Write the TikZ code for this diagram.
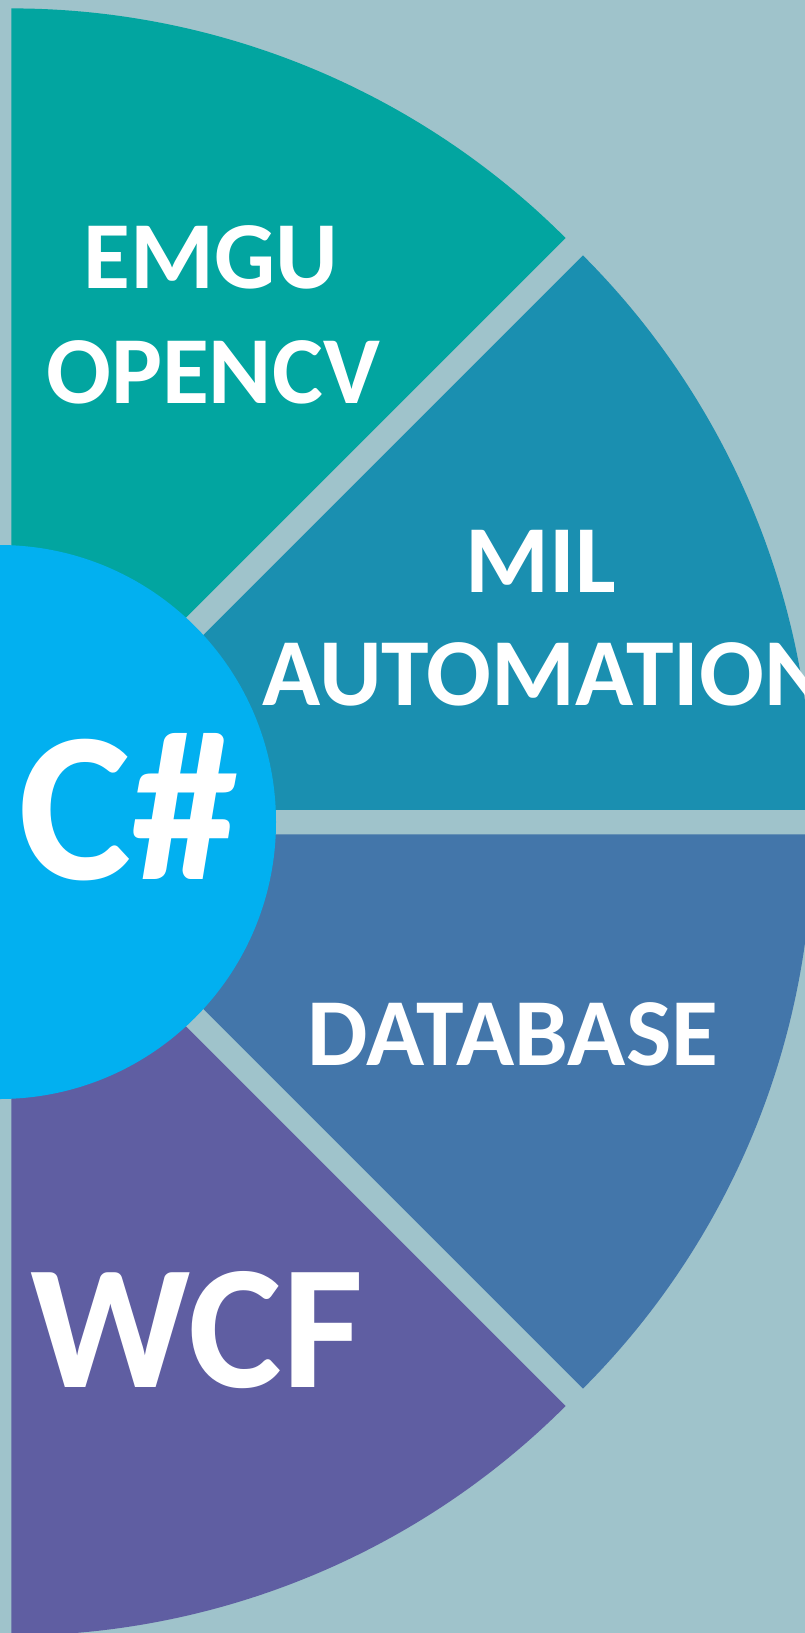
\documentclass[tikz,border=0pt]{standalone}
\usepackage{fontspec}
\setmainfont{Carlito}
\usetikzlibrary{positioning}

\definecolor{bgblue}{HTML}{9FC3CB}
\definecolor{sliceteal}{HTML}{02A5A0}
\definecolor{sliceblue}{HTML}{1A8FB0}
\definecolor{slicesteel}{HTML}{4376AA}
\definecolor{slicepurple}{HTML}{5F5EA2}
\definecolor{hubblue}{HTML}{02B0F0}

\begin{document}
\begin{tikzpicture}[x=1pt, y=1pt,
		lbl/.style={text=white, inner sep=0pt, anchor=base, font=\bfseries\fontsize{96}{116}\selectfont},
		biglbl/.style={lbl, font=\bfseries\fontsize{177}{212}\selectfont}
	]
					\fill[bgblue] (0,0) rectangle (805,-1633);
					\clip (0,0) rectangle (805,-1633);

					% pie slices, pulled out from the centre
					\coordinate (o) at (-1,-822);
					\coordinate (a1) at (11.25,-792.4);
					\coordinate (a2) at (28.56,-809.75);
					\coordinate (a3) at (28.56,-834.25);
					\coordinate (a4) at (11.25,-851.6);

					\fill[sliceteal] (a1) -- ++(90:784) arc[start angle=90, end angle=45, radius=784] -- cycle;
					\fill[sliceblue] (a2) -- ++(45:784) arc[start angle=45, end angle=0, radius=784] -- cycle;
					\fill[slicesteel] (a3) -- ++(0:784) arc[start angle=0, end angle=-45, radius=784] -- cycle;
					\fill[slicepurple] (a4) -- ++(-45:784) arc[start angle=-45, end angle=-90, radius=784] -- cycle;

					\node[circle,
						fill=hubblue,
						minimum size=554pt,
						inner sep=0pt
					] (hub) at (o) {};

					\node[lbl] (emgu) at (211,-288) {EMGU};
					\node[lbl] (opencv) at (213,-403) {OPENCV};
					\node[lbl] (mil) at (541,-592) {MIL};
					\node[lbl] (automation) at (545,-705) {AUTOMATION};
					\node[lbl] (database) at (513,-1065) {DATABASE};
					\node[biglbl] (wcf) at (197,-1387) {WCF};
					\node[lbl, font=\bfseries\fontsize{214}{256}\selectfont] (csharp) at (128,-879) {C\#};
				\end{tikzpicture}
\end{document}
